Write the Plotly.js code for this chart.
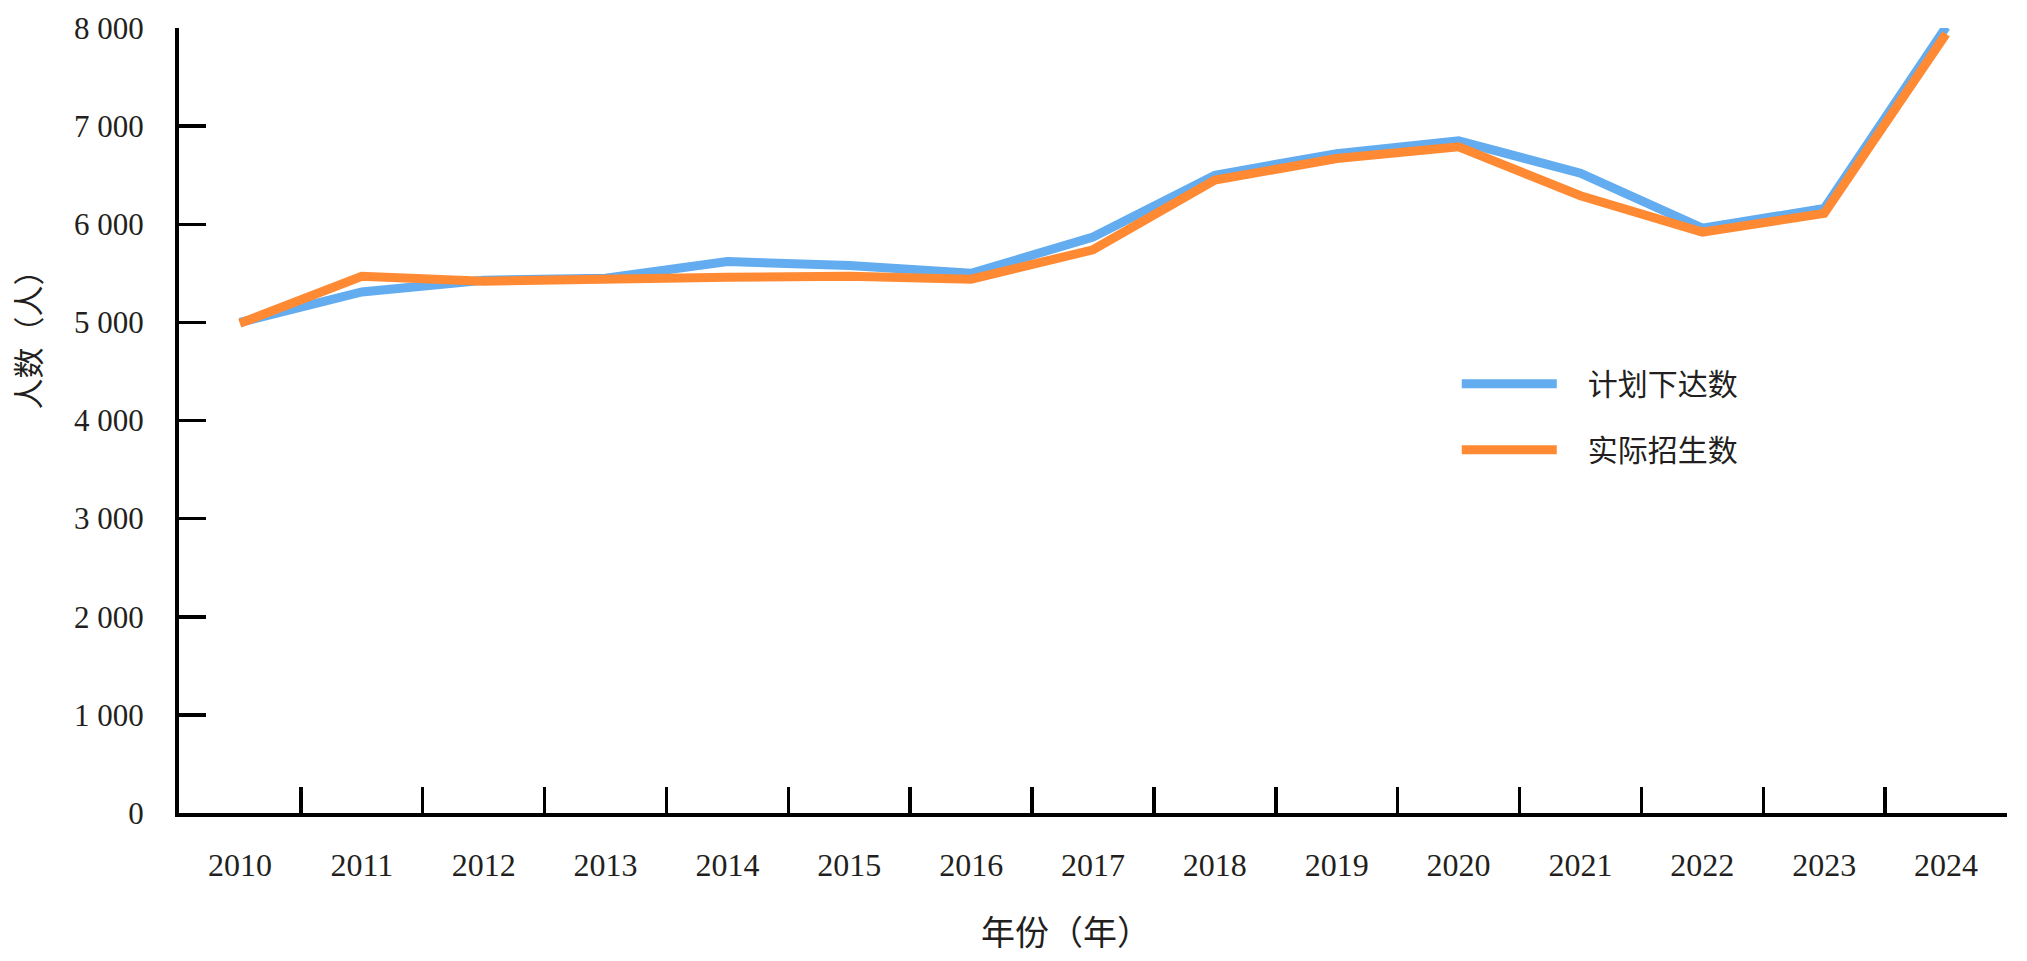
<!DOCTYPE html>
<html>
<head>
<meta charset="utf-8">
<script src="https://cdn.plot.ly/plotly-3.0.1.min.js"></script>
<style>
html, body { margin: 0; padding: 0; background: #ffffff; }
#chart { width: 2027px; height: 961px; }
</style>
</head>
<body>
<div id="chart"></div>
<script>
var years = ['2010', '2011', '2012', '2013', '2014', '2015', '2016', '2017', '2018', '2019', '2020', '2021', '2022', '2023', '2024'];
var planned = [5000, 5310, 5430, 5450, 5620, 5580, 5500, 5870, 6500, 6720, 6850, 6520, 5960, 6160, 8010];
var actual = [4990, 5470, 5420, 5450, 5460, 5470, 5440, 5740, 6450, 6670, 6790, 6290, 5920, 6110, 7940];
var seriesNames = ['计划下达数', '实际招生数'];
var yTickVals = [0, 1000, 2000, 3000, 4000, 5000, 6000, 7000, 8000];
var yTickText = ['0', '1 000', '2 000', '3 000', '4 000', '5 000', '6 000', '7 000', '8 000'];
var xTitle = '年份（年）';
var yTitle = '人数（人）';

var fontFamily = '"Liberation Serif", "Times New Roman", "Noto Sans CJK SC", serif';
var cjkFamily = '"Noto Sans CJK SC", "Liberation Serif", sans-serif';
var textColor = '#231f20';

var traces = [
  {
    type: 'scatter', mode: 'lines', name: seriesNames[0], x: years, y: planned,
    line: { color: '#62acef', width: 9 }, legendgroup: 'a', cliponaxis: false
  },
  {
    type: 'scatter', mode: 'lines', name: seriesNames[1], x: years, y: actual,
    line: { color: '#ff8a33', width: 9 }, legendgroup: 'b', cliponaxis: false
  }
];

var layout = {
  width: 2027, height: 961,
  margin: { l: 179, r: 20, t: 28, b: 148 },
  paper_bgcolor: '#ffffff', plot_bgcolor: '#ffffff',
  font: { family: fontFamily, color: textColor, size: 31 },
  showlegend: true,
  legend: {
    x: 0.699, y: 0.58, xanchor: 'left', yanchor: 'top',
    font: { family: cjkFamily, size: 30, color: textColor },
    bgcolor: 'rgba(0,0,0,0)', borderwidth: 0,
    tracegroupgap: 24, itemwidth: 95
  },
  xaxis: {
    type: 'category', range: [-0.5, 14.5], tickson: 'boundaries',
    showline: true, linecolor: '#000000', linewidth: 4,
    ticks: 'inside', ticklen: 26, tickwidth: 3.5, tickcolor: '#000000',
    showgrid: false, zeroline: false, ticklabelstandoff: 21,
    tickfont: { family: fontFamily, size: 32, color: textColor },
    fixedrange: true
  },
  yaxis: {
    range: [0, 8000], tickmode: 'array', tickvals: yTickVals, ticktext: yTickText,
    showline: true, linecolor: '#000000', linewidth: 4,
    ticks: 'inside', ticklen: 27, tickwidth: 3.5, tickcolor: '#000000',
    showgrid: false, zeroline: false, ticklabelstandoff: 25,
    tickfont: { family: fontFamily, size: 31, color: textColor },
    fixedrange: true
  },
  annotations: [
    {
      text: xTitle, xref: 'paper', yref: 'paper', x: 0.485, y: -0.15,
      xanchor: 'center', yanchor: 'middle', showarrow: false,
      font: { family: cjkFamily, size: 34, color: textColor }
    },
    {
      text: yTitle, xref: 'paper', yref: 'paper', x: 0, xshift: -152, y: 0.612,
      xanchor: 'center', yanchor: 'middle', textangle: -90, showarrow: false,
      font: { family: cjkFamily, size: 31, color: textColor }
    }
  ]
};

Plotly.newPlot('chart', traces, layout, { displayModeBar: false, staticPlot: true }).then(function () {
  document.querySelectorAll('#chart .legend .scrollbox').forEach(function (s) {
    s.removeAttribute('clip-path');
  });
  document.querySelectorAll('#chart .legend .legendtext').forEach(function (t) {
    var x = parseFloat(t.getAttribute('x')) || 0;
    t.setAttribute('x', x + 26);
  });
});
</script>
</body>
</html>
